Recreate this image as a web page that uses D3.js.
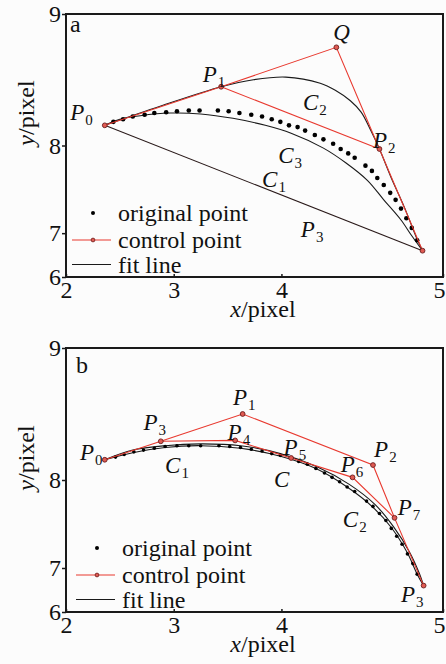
<!DOCTYPE html>
<html>
<head>
<meta charset="utf-8">
<script src="https://cdnjs.cloudflare.com/ajax/libs/d3/7.8.5/d3.min.js"></script>
<style>
body { margin: 0; background: #fcfcfc; }
text { font-family: "Liberation Serif", "Times New Roman", serif; fill: #111; }
</style>
</head>
<body>
<div id="chart"></div>
<script>
// Axes (corner labels of the original figure read 2/5 and 6/9)
var xDomain = [2, 5.5];
var yDomain = [6.5, 9.5];
var xTickValues = [2, 3, 4, 5.5];
var xTickLabels = ["2", "3", "4", "5"];
var yTickValues = [6.5, 7, 8, 9.5];
var yTickLabels = ["6", "7", "8", "9"];

// ---- panel a ----
var aOrigX = [2.44,2.53,2.62,2.73,2.82,2.93,3.03,3.14,3.24,3.41,3.51,3.61,3.72,3.82,3.91,3.99,4.07,4.15,4.22,4.31,4.39,4.48,4.55,4.62,4.68,4.78,4.84,4.89,4.95,5.01,5.06,5.11,5.16,5.21,5.26];
var aOrigY = [8.27,8.30,8.33,8.35,8.37,8.38,8.39,8.40,8.40,8.40,8.39,8.37,8.35,8.33,8.30,8.27,8.23,8.21,8.17,8.12,8.07,8.02,7.96,7.91,7.86,7.77,7.71,7.63,7.55,7.46,7.38,7.28,7.17,7.06,6.92];

// control points P0, P1, Q, P2, P3
var aCtrlX = [2.36, 3.44, 4.51, 4.91, 5.31];
var aCtrlY = [8.23, 8.67, 9.12, 7.96, 6.80];
var aRedLines = [[0, 1, 2, 3, 4], [1, 3]];

var aC1X = [2.36, 5.31];
var aC1Y = [8.23, 6.80];
var aC2X = [2.36, 2.88, 3.44, 3.74, 4.04, 4.36, 4.50, 4.64, 4.74, 4.83, 4.91, 5.02, 5.14, 5.25, 5.31];
var aC2Y = [8.23, 8.45, 8.67, 8.75, 8.78, 8.71, 8.63, 8.51, 8.38, 8.17, 7.96, 7.63, 7.30, 6.96, 6.80];
var aC3X = [2.36, 2.50, 2.69, 2.97, 3.25, 3.55, 3.85, 4.09, 4.39, 4.60, 4.80, 4.95, 5.11, 5.21, 5.31];
var aC3Y = [8.23, 8.30, 8.34, 8.37, 8.36, 8.31, 8.23, 8.14, 7.97, 7.80, 7.60, 7.38, 7.15, 6.97, 6.80];

var aLabelText = ["P", "P", "Q", "C", "P", "C", "C", "P"];
var aLabelSub  = ["0", "1", "",  "2", "2", "3", "1", "3"];
var aLabelX = [2.04, 3.27, 4.48, 4.20, 4.85, 3.97, 3.82, 4.18];
var aLabelY = [8.29, 8.72, 9.20, 8.41, 7.97, 7.80, 7.53, 6.96];

// ---- panel b ----
var bOrigX = [2.46,2.54,2.63,2.72,2.82,2.92,3.03,3.14,3.25,3.42,3.52,3.62,3.72,3.82,3.91,3.99,4.09,4.16,4.24,4.32,4.40,4.47,4.54,4.61,4.68,4.79,4.85,4.91,4.97,5.02,5.07,5.12,5.17,5.22,5.26];
var bOrigY = [8.26,8.29,8.32,8.34,8.36,8.38,8.39,8.39,8.39,8.39,8.38,8.37,8.35,8.33,8.30,8.28,8.25,8.21,8.18,8.13,8.08,8.03,7.98,7.92,7.87,7.76,7.70,7.62,7.54,7.45,7.36,7.27,7.16,7.05,6.93];

// control points P0, P3, P1, P4, P5, P2, P6, P7, P3
var bCtrlX = [2.36, 2.88, 3.64, 3.57, 4.09, 4.85, 4.66, 5.05, 5.32];
var bCtrlY = [8.23, 8.44, 8.75, 8.45, 8.25, 8.17, 8.03, 7.57, 6.80];
var bRedLines = [[0, 1, 2, 5, 7, 8], [1, 3, 4, 6, 7]];

var bFitX = [2.36, 2.62, 2.92, 3.25, 3.62, 3.99, 4.32, 4.61, 4.85, 5.02, 5.17, 5.26, 5.32];
var bFitY = [8.23, 8.31, 8.37, 8.39, 8.36, 8.27, 8.13, 7.92, 7.69, 7.46, 7.17, 6.93, 6.80];
var bSegX = [2.36, 2.62, 2.92, 3.25, 3.62, 3.99, 4.33, 4.63, 4.87, 5.04, 5.19, 5.28, 5.32];
var bSegY = [8.23, 8.34, 8.39, 8.41, 8.39, 8.30, 8.15, 7.95, 7.72, 7.47, 7.18, 6.94, 6.80];

var bLabelText = ["P", "P", "P", "P", "P", "C", "C", "P", "P", "P", "C", "P"];
var bLabelSub  = ["0", "3", "1", "4", "5", "",  "1", "2", "6", "7", "2", "3"];
var bLabelX = [2.13, 2.72, 3.55, 3.50, 4.02, 3.93, 2.92, 4.86, 4.55, 5.08, 4.57, 5.11];
var bLabelY = [8.23, 8.57, 8.85, 8.45, 8.28, 7.92, 8.08, 8.26, 8.09, 7.60, 7.47, 6.61];

var legendLabels = ["original point", "control point", "fit line"];

// svg setup
var svgWidth = 446;
var svgHeight = 664;
var left = 66, right = 443;

var svg = d3.select("#chart")
    .append("svg")
    .attr("width", svgWidth)
    .attr("height", svgHeight);

svg.append("rect")
    .attr("width", svgWidth)
    .attr("height", svgHeight)
    .attr("fill", "#fcfcfc");

var xScale = d3.scaleLinear().domain(xDomain).range([left, right]);

var red = "#e8392f";
var ink = "#1a1a1a";

function drawPanel(cfg) {
    var yScale = d3.scaleLinear().domain(yDomain).range([cfg.bottom, cfg.top]);
    var g = svg.append("g");

    var line = d3.line()
        .x(d => xScale(d[0]))
        .y(d => yScale(d[1]))
        .curve(d3.curveCatmullRom.alpha(0.5));
    var straight = d3.line()
        .x(d => xScale(d[0]))
        .y(d => yScale(d[1]));

    // black fit lines
    cfg.curves.forEach(function(c) {
        g.append("path")
            .attr("d", line(d3.zip(c[0], c[1])))
            .attr("fill", "none")
            .attr("stroke", c[2] || ink)
            .attr("stroke-width", 1.1);
    });

    // original points
    g.selectAll(".orig")
        .data(d3.zip(cfg.origX, cfg.origY))
        .enter()
        .append("circle")
        .attr("cx", d => xScale(d[0]))
        .attr("cy", d => yScale(d[1]))
        .attr("r", cfg.dotR)
        .attr("fill", "#000");

    // control polygon
    cfg.redLines.forEach(function(idx) {
        g.append("path")
            .attr("d", straight(idx.map(i => [cfg.ctrlX[i], cfg.ctrlY[i]])))
            .attr("fill", "none")
            .attr("stroke", red)
            .attr("stroke-width", 1.1);
    });

    g.selectAll(".ctrl")
        .data(d3.zip(cfg.ctrlX, cfg.ctrlY))
        .enter()
        .append("circle")
        .attr("cx", d => xScale(d[0]))
        .attr("cy", d => yScale(d[1]))
        .attr("r", 2.4)
        .attr("fill", "#e05a52")
        .attr("stroke", "#6a1c1c")
        .attr("stroke-width", 0.9);

    // point labels
    cfg.labelText.forEach(function(t, i) {
        var txt = g.append("text")
            .attr("x", xScale(cfg.labelX[i]))
            .attr("y", yScale(cfg.labelY[i]))
            .attr("font-size", "23px");
        txt.append("tspan").attr("font-style", "italic").text(t);
        if (cfg.labelSub[i] !== "") {
            txt.append("tspan")
                .attr("dx", 1)
                .attr("dy", 5)
                .attr("font-size", "15px")
                .text(cfg.labelSub[i]);
        }
    });

    // axes
    g.append("g")
        .attr("transform", `translate(0, ${cfg.bottom})`)
        .call(d3.axisBottom(xScale)
            .tickValues(xTickValues)
            .tickFormat((d, i) => xTickLabels[i])
            .tickSizeInner(-3)
            .tickSizeOuter(0)
            .tickPadding(4))
        .call(a => a.select(".domain").remove())
        .call(a => a.selectAll("text").attr("font-size", "24px").attr("font-family", "Liberation Serif, serif").attr("fill", "#111"))
        .call(a => a.selectAll("text").filter((d, i) => i === xTickValues.length - 1).attr("dx", -4))
        .call(a => a.selectAll("line").attr("stroke", ink).attr("stroke-width", 1.5));

    g.append("g")
        .attr("transform", `translate(${left}, 0)`)
        .call(d3.axisLeft(yScale)
            .tickValues(yTickValues)
            .tickFormat((d, i) => yTickLabels[i])
            .tickSizeInner(4)
            .tickSizeOuter(0)
            .tickPadding(1))
        .call(a => a.select(".domain").remove())
        .call(a => a.selectAll("text").attr("font-size", "24px").attr("font-family", "Liberation Serif, serif").attr("fill", "#111"))
        .call(a => a.selectAll("line").attr("stroke", ink).attr("stroke-width", 1.5));

    // frame
    g.append("rect")
        .attr("x", left)
        .attr("y", cfg.top)
        .attr("width", right - left)
        .attr("height", cfg.bottom - cfg.top)
        .attr("fill", "none")
        .attr("stroke", ink)
        .attr("stroke-width", 2);

    // panel letter
    g.append("text")
        .attr("x", cfg.letterX)
        .attr("y", cfg.top + cfg.letterDy)
        .attr("font-size", "24px")
        .text(cfg.letter);

    // axis titles
    var xt = g.append("text")
        .attr("x", 263)
        .attr("y", cfg.bottom + 40)
        .attr("text-anchor", "middle")
        .attr("font-size", "24px");
    xt.append("tspan").attr("font-style", "italic").text("x");
    xt.append("tspan").text("/pixel");

    var yt = g.append("text")
        .attr("transform", "rotate(-90)")
        .attr("x", -cfg.yTitleY)
        .attr("y", 34)
        .attr("text-anchor", "middle")
        .attr("font-size", "24px");
    yt.append("tspan").attr("font-style", "italic").text("y");
    yt.append("tspan").text("/pixel");

    // legend
    var lg = g.append("g")
        .attr("transform", `translate(${cfg.legendX}, ${cfg.bottom})`);
    var rows = [-64, -37, -12.5];
    lg.append("circle").attr("cx", 0).attr("cy", rows[0]).attr("r", 2).attr("fill", "#000");
    lg.append("line").attr("x1", -21).attr("x2", 18).attr("y1", rows[1]).attr("y2", rows[1])
        .attr("stroke", red).attr("stroke-width", 1.1);
    lg.append("circle").attr("cx", 0).attr("cy", rows[1]).attr("r", 1.9)
        .attr("fill", "#e05a52").attr("stroke", "#6a1c1c").attr("stroke-width", 0.8);
    lg.append("line").attr("x1", -21).attr("x2", 18).attr("y1", rows[2]).attr("y2", rows[2])
        .attr("stroke", ink).attr("stroke-width", 1.1);
    legendLabels.forEach(function(l, i) {
        lg.append("text")
            .attr("x", 25)
            .attr("y", rows[i] + 8)
            .attr("font-size", "24px")
            .text(l);
    });
}

drawPanel({
    top: 14, bottom: 277, letter: "a", letterX: 70, letterDy: 18,
    yTitleY: 113, legendX: 93, dotR: 2.3,
    origX: aOrigX, origY: aOrigY,
    ctrlX: aCtrlX, ctrlY: aCtrlY, redLines: aRedLines,
    curves: [[aC1X, aC1Y, "#2a1a1a"], [aC2X, aC2Y], [aC3X, aC3Y]],
    labelText: aLabelText, labelSub: aLabelSub, labelX: aLabelX, labelY: aLabelY
});

drawPanel({
    top: 348, bottom: 612, letter: "b", letterX: 76, letterDy: 25,
    yTitleY: 458, legendX: 97, dotR: 1.8,
    origX: bOrigX, origY: bOrigY,
    ctrlX: bCtrlX, ctrlY: bCtrlY, redLines: bRedLines,
    curves: [[bFitX, bFitY], [bSegX, bSegY]],
    labelText: bLabelText, labelSub: bLabelSub, labelX: bLabelX, labelY: bLabelY
});
</script>
</body>
</html>
